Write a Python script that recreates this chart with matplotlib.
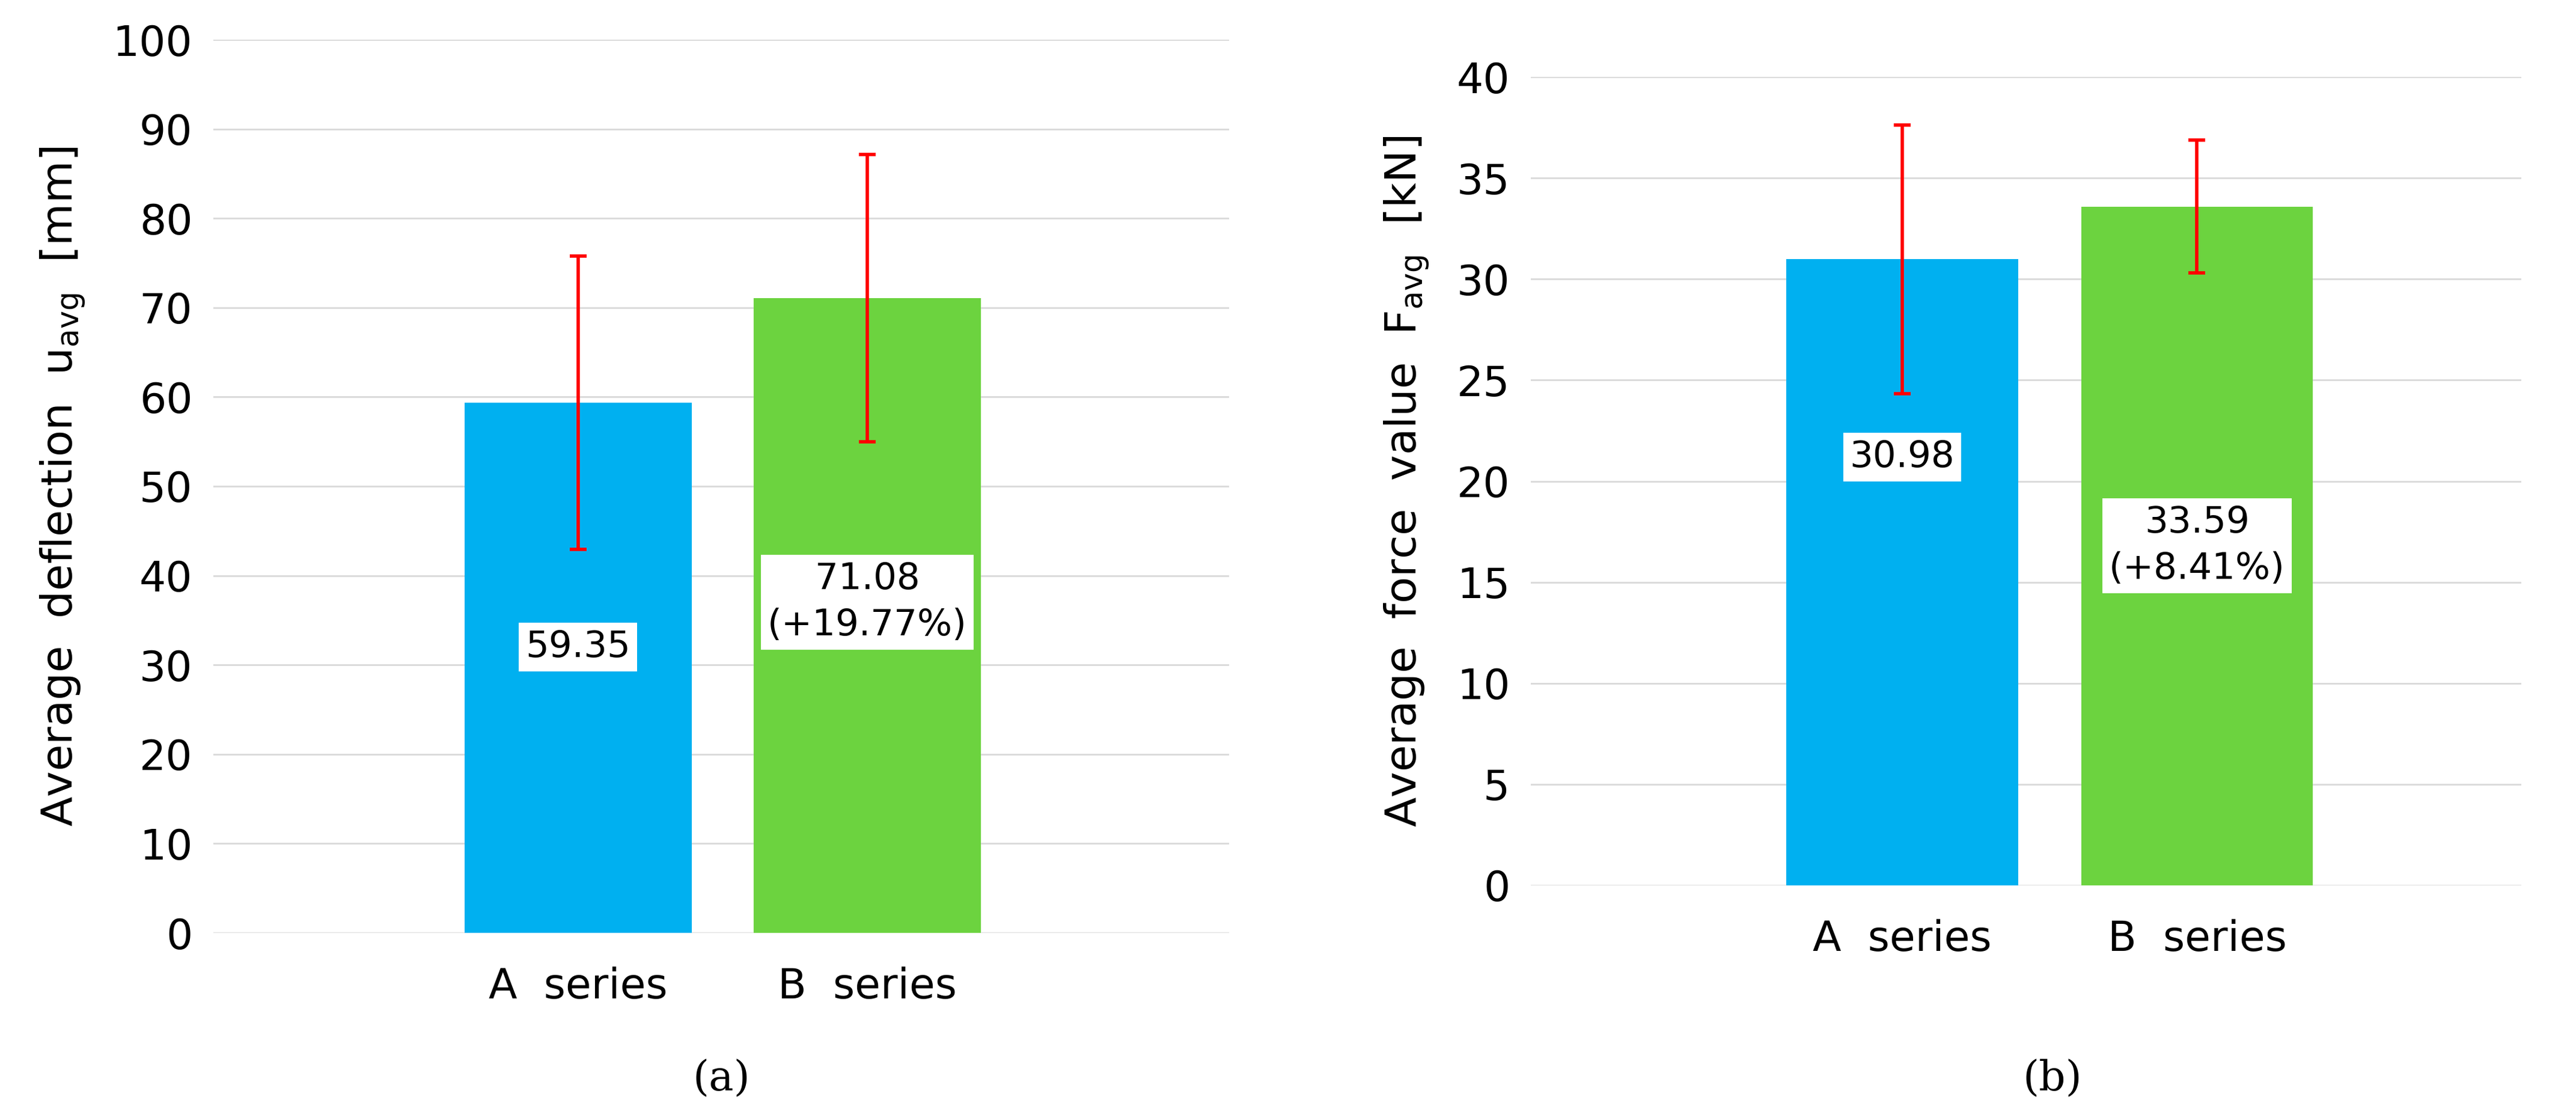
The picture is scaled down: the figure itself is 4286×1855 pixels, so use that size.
import numpy as np
import matplotlib
matplotlib.use('Agg')
import matplotlib.pyplot as plt

categories = ["A  series", "B  series"]
deflection = [59.35, 71.08]
deflection_err = [16.4, 16.1]
deflection_labels = ["59.35", "71.08\n(+19.77%)"]
force = [30.98, 33.59]
force_err = [6.65, 3.3]
force_labels = ["30.98", "33.59\n(+8.41%)"]
colors = ["#00B0F0", "#6CD33F"]

plt.rcParams['font.family'] = ['DejaVu Sans']
fig = plt.figure(figsize=(42.86, 18.55), dpi=100)
ax1 = fig.add_axes([355/4286, 1 - 1552/1855, 1690/4286, 1486/1855])
ax2 = fig.add_axes([2547/4286, 1 - 1473/1855, 1648/4286, 1345/1855])

def draw(ax, vals, errs, labels, ymax, step, xlim, label_y, ylabel):
    x = np.arange(len(vals))
    ax.bar(x, vals, width=0.785, color=colors, zorder=2)
    ax.errorbar(x, vals, yerr=errs, fmt='none', ecolor='red', elinewidth=4,
                capsize=10, capthick=4, zorder=3)
    for xi, ly, t in zip(x, label_y, labels):
        ax.text(xi, ly, t, ha='center', va='center', fontsize=44, zorder=4,
                linespacing=1.4,
                bbox=dict(facecolor='white', edgecolor='none', pad=8))
    ax.set_ylim(0, ymax)
    ax.set_xlim(*xlim)
    ax.set_yticks(np.arange(0, ymax + step / 2, step))
    ax.set_xticks(x)
    ax.set_xticklabels(categories)
    ax.grid(axis='y', color='#d9d9d9', linewidth=2, zorder=0)
    for s in ax.spines.values():
        s.set_visible(False)
    ax.tick_params(length=0, labelsize=50, pad=25)
    ax.tick_params(axis='x', pad=40)
    ax.set_ylabel(ylabel, fontsize=52, labelpad=30)

draw(ax1, deflection, deflection_err, deflection_labels, 100, 10, (-1.26, 2.25),
     [32, 37], r"Average  deflection  u$_{\mathrm{avg}}$  [mm]")
draw(ax2, force, force_err, force_labels, 40, 5, (-1.26, 2.1),
     [21.2, 16.8], r"Average  force  value  F$_{\mathrm{avg}}$  [kN]")

fig.text(1200/4286, 1 - 1795/1855, "(a)", ha='center', va='center', fontsize=50,
         family='DejaVu Serif')
fig.text(3415/4286, 1 - 1795/1855, "(b)", ha='center', va='center', fontsize=50,
         family='DejaVu Serif')

fig.savefig("out.png", dpi=100)
